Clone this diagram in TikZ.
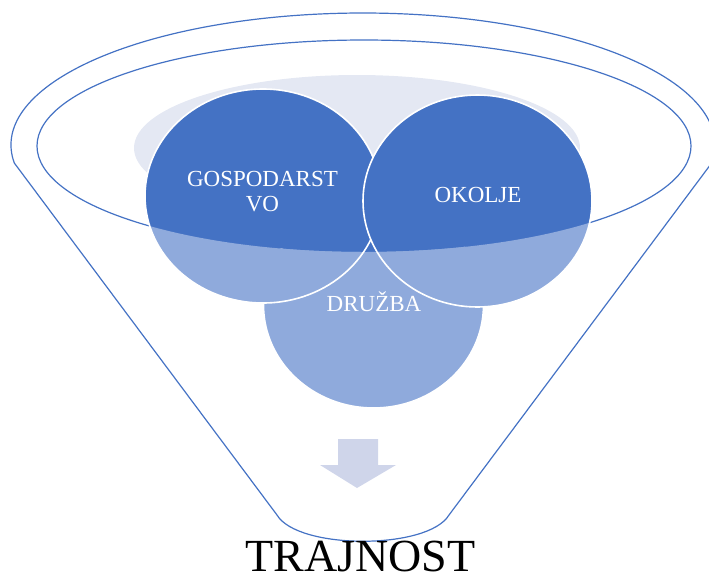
\documentclass[tikz,border=0pt]{standalone}
\usepackage{fontspec}
\setmainfont{Liberation Serif}
\definecolor{fblue}{HTML}{4472C4}
\definecolor{flight}{RGB}{143,170,220}
\definecolor{liquid}{RGB}{228,232,243}
\definecolor{arrowc}{RGB}{207,213,234}
\begin{document}
\begin{tikzpicture}[x=1pt,y=-1pt,
  rim/.style={draw=fblue, line width=1.2pt},
  ball/.style={fill=fblue, draw=white, line width=1.6pt},
  lightball/.style={fill=flight, draw=white, line width=1.6pt},
  lbl/.style={text=white, font=\fontsize{23}{25}\selectfont, inner sep=0pt, align=center}]
\useasboundingbox (0,0) rectangle (709,579);
% funnel outline
\coordinate (lc) at (14.3,163);
\coordinate (bl) at (277,515);
\coordinate (br) at (449,515);
\draw[rim, line join=round] (lc) arc[start angle=172.16, end angle=367.84, x radius=352, y radius=132]
  -- (br) .. controls (428,550) and (298,550) .. (bl) -- cycle;
% inner rim
\draw[rim] (364,146) ellipse[x radius=327, y radius=106];
% liquid surface
\fill[liquid] (357,148) ellipse[x radius=223, y radius=73];
% balls
\path[ball] (373.5,305) ellipse[x radius=110, y radius=103];
\path[ball] (263,196) ellipse[x radius=118, y radius=107];
\path[ball] (477.5,201) ellipse[x radius=114.5, y radius=106];
% lighter part below the rim
\begin{scope}
  \clip (0,146) -- (37,146) arc[start angle=180, end angle=0, x radius=327, y radius=106]
    -- (709,146) -- (709,579) -- (0,579) -- cycle;
  \path[lightball] (373.5,305) ellipse[x radius=110, y radius=103];
  \path[lightball] (263,196) ellipse[x radius=118, y radius=107];
  \path[lightball] (477.5,201) ellipse[x radius=114.5, y radius=106];
\end{scope}
% labels
\node[lbl, anchor=north] (gosp) at (262.5,171.5) {GOSPODARST\\VO};
\node[lbl, anchor=base] (okolje) at (478,202) {OKOLJE};
\node[lbl, anchor=base] (druzba) at (374,311) {DRUŽBA};
% arrow
\fill[arrowc] (338,439) -- (378,439) -- (378,465) -- (396,465) -- (357,488) -- (320,465) -- (338,465) -- cycle;
% result
\node[anchor=base, inner sep=0pt, font=\fontsize{46}{50}\selectfont] (trajnost) at (360.5,571) {TRAJNOST};
\end{tikzpicture}
\end{document}
